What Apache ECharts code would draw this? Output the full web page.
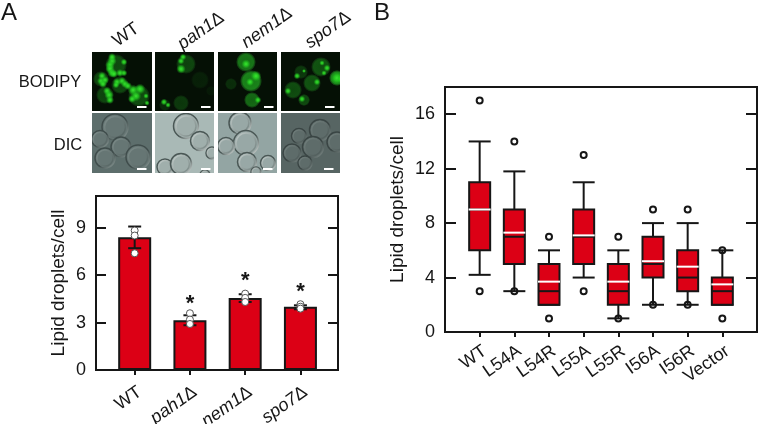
<!DOCTYPE html>
<html>
<head>
<meta charset="utf-8">
<title>Lipid droplets</title>
<script src="https://cdn.jsdelivr.net/npm/echarts@6/dist/echarts.min.js"></script>
<style>
    html, body { margin: 0; padding: 0; background: #fff; }
    #chart { width: 758px; height: 424px; }
</style>
</head>
<body>
<div id="chart"></div>
<script>
// panel A
const strainLabels = ['WT', 'pah1Δ', 'nem1Δ', 'spo7Δ']
const strainMeans = [8.4, 3.15, 4.55, 4.0]
const strainErrHigh = [9.07, 3.46, 4.79, 4.09]
const strainErrLow = [7.7, 2.83, 4.3, 3.84]
const strainPoints = [
    [8.82, 8.5, 7.38],
    [3.59, 3.19, 2.91],
    [4.83, 4.56, 4.3],
    [4.16, 4.0, 3.88]
]
const starValues = [null, 4.2, 5.65, 4.95]
const yTicksA = [0, 3, 6, 9]

// panel B
const mutantLabels = ['WT', 'L54A', 'L54R', 'L55A', 'L55R', 'I56A', 'I56R', 'Vector']
const boxLow = [4.2, 3, 2, 4, 1, 2, 2, 2]
const boxQ1 = [6, 5, 2, 5, 2, 4, 3, 2]
const boxMedian = [9, 7, 3, 7, 3, 5, 4, 3]
const boxQ3 = [11, 9, 5, 9, 5, 7, 6, 4]
const boxHigh = [14, 11.8, 6, 11, 6, 8, 8, 6]
const boxMean = [9, 7.3, 3.7, 7.1, 3.7, 5.2, 4.8, 3.5]
const boxOutliers = [
    [17, 3],
    [14, 3],
    [7, 1],
    [13, 3],
    [7, 1],
    [9, 2],
    [9, 2],
    [6, 1]
]
const yTicksB = [0, 4, 8, 12, 16]

const FONT = '"Liberation Sans", Arial, sans-serif'
const INK = '#161616'
const RED = '#dc0015'

// 显微图: 坐标都是参考图上的像素
function radial(stops) {
    return { type: 'radial', x: 0.5, y: 0.5, r: 0.5, colorStops: stops.map(s => ({ offset: s[0], color: s[1] })) }
}

function rect(x, y, w, h, fill) {
    return { type: 'rect', shape: { x, y, width: w, height: h }, style: { fill }, silent: true }
}

function fluoCell(x, y, r, level) {
    return {
        type: 'circle', shape: { cx: x, cy: y, r: r }, silent: true,
        style: {
            fill: radial([
                [0, `rgba(30,170,30,${level * 0.8})`],
                [0.75, `rgba(30,150,30,${level})`],
                [0.92, `rgba(30,120,30,${level * 0.55})`],
                [1, 'rgba(20,100,20,0)']
            ])
        }
    }
}

function spot(x, y, r) {
    return {
        type: 'circle', shape: { cx: x, cy: y, r: r * 1.35 }, silent: true,
        style: {
            fill: radial([[0, 'rgba(60,238,50,0.95)'], [0.45, 'rgba(40,215,35,0.75)'], [1, 'rgba(30,180,30,0)']])
        }
    }
}

function dicCell(x, y, r, base, edgeLight, edgeDark) {
    return [{
        type: 'circle', shape: { cx: x, cy: y, r: r }, silent: true,
        style: {
            fill: base,
            stroke: {
                type: 'linear', x: 0, y: 0, x2: 1, y2: 1,
                colorStops: [{ offset: 0, color: edgeDark }, { offset: 0.55, color: edgeDark }, { offset: 1, color: edgeLight }]
            },
            lineWidth: 1.5
        }
    }, {
        type: 'circle', shape: { cx: x, cy: y, r: r * 0.8 }, silent: true,
        style: {
            fill: 'transparent',
            stroke: {
                type: 'linear', x: 0, y: 0, x2: 1, y2: 1,
                colorStops: [{ offset: 0, color: edgeLight }, { offset: 1, color: edgeDark }]
            },
            lineWidth: 1.5,
            opacity: 0.5
        }
    }]
}

function buildMicrographs() {
    let els = []
    // BODIPY
    const tilesTop = [[92, 60], [155, 59], [218, 59], [281, 59]]
    tilesTop.forEach(t => els.push(rect(t[0], 52, t[1], 59, '#051005')))

    ;[[116, 65, 11, 0.45], [101, 79, 8, 0.4], [120, 85, 9, 0.4], [105, 95, 9, 0.4], [139, 96, 11, 0.45],
      [186, 64, 10, 0.4], [200, 80, 9, 0.12], [181, 103, 8, 0.3], [165, 105, 6, 0.2], [211, 91, 5, 0.07],
      [246, 62, 10, 0.75], [251, 81, 11, 0.85], [252, 100, 8, 0.65], [231, 84, 6, 0.22],
      [321, 67, 10, 0.5], [301, 72, 7, 0.3], [312, 83, 9, 0.5], [293, 90, 9, 0.45], [304, 100, 6, 0.42], [337, 78, 8, 0.8]
    ].forEach(c => els.push(fluoCell(c[0], c[1], c[2], c[3])))

    ;[[112, 61, 3.5], [110, 65, 3.5], [110, 69, 3.5], [112, 73, 3.5], [114, 74, 3], [120, 73, 3], [124, 73, 2.5], [124, 62, 2.5], [112, 57, 3],
      [102, 76, 3], [101, 81, 3], [105, 80, 3], [103, 84, 3], [117, 82, 3], [122, 81, 3], [125, 84, 3], [128, 86, 3], [116, 85, 2.5],
      [107, 91, 3], [109, 95, 3.5], [110, 100, 3], [133, 90, 4], [140, 89, 4], [136, 96, 4], [132, 99, 3], [146, 96, 2], [147, 103, 2],
      [183, 57, 2.5], [181, 61, 2.5], [181, 69, 3.5], [164, 102, 2.5], [168, 105, 2],
      [246, 64, 3.5], [256, 76, 4], [258, 100, 2.5], [250, 82, 3],
      [322, 63, 2], [327, 68, 2.5], [324, 73, 2], [297, 76, 2.5], [304, 71, 1.5], [317, 82, 2.5], [288, 91, 2.5], [302, 99, 2.5], [337, 78, 5], [341, 79, 3]
    ].forEach(s => els.push(spot(s[0], s[1], s[2])))

    // DIC
    const dicTiles = [
        { x: 92, w: 60, bg: '#5d6e6c', base: '#667674', light: '#98a6a3', dark: '#3f4c4b',
          cells: [[115, 127, 13], [100, 139, 8.5], [121, 147, 10], [105, 158, 10], [138, 157, 12]] },
        { x: 155, w: 59, bg: '#a9b9b6', base: '#a0afac', light: '#eef2f0', dark: '#4a5755',
          cells: [[186, 126, 12.5], [200, 141, 9.5], [165, 167, 8], [181, 164, 10.5], [212, 153, 6], [205, 175, 5]] },
        { x: 218, w: 59, bg: '#93a5a3', base: '#98a8a6', light: '#eef2f0', dark: '#4a5755',
          cells: [[240, 123, 11], [246, 143, 12.5], [226, 146, 8.5], [247, 162, 9.5], [268, 163, 7.5], [256, 172, 5]] },
        { x: 281, w: 59, bg: '#576563', base: '#5e6c6a', light: '#8a9794', dark: '#3a4544',
          cells: [[320, 130, 10.5], [299, 136, 7.5], [313, 147, 10.5], [292, 153, 9], [305, 163, 7], [337, 142, 10]] }
    ]
    dicTiles.forEach(t => {
        els.push(rect(t.x, 113, t.w, 60, t.bg))
        t.cells.forEach(c => { els = els.concat(dicCell(c[0], c[1], c[2], t.base, t.light, t.dark)) })
    })

    // 把超出格子的部分盖掉
    ;[[80, 40, 12, 145], [152, 40, 3, 145], [214, 40, 4, 145], [277, 40, 4, 145], [340, 40, 14, 145],
      [80, 40, 280, 12], [80, 111, 280, 2], [80, 173, 280, 12]
    ].forEach(s => els.push(rect(s[0], s[1], s[2], s[3], '#fff')))

    // 比例尺
    ;[[137, 106], [201, 106], [264, 106], [325, 106], [137, 168], [201, 168], [263, 168], [324, 168]]
        .forEach(b => els.push(rect(b[0], b[1], 9.5, 2, '#fff')))

    return els
}

function textEl(text, x, y, size, rotationDeg, rich) {
    return {
        type: 'text', x, y, rotation: (rotationDeg || 0) * Math.PI / 180, silent: true,
        style: { text, font: `${size}px ${FONT}`, fill: INK, align: 'center', verticalAlign: 'middle', rich: rich }
    }
}

const italicRich = {
    i: { fontFamily: FONT, fontStyle: 'italic', fontSize: 18, color: INK },
    d: { fontFamily: FONT, fontSize: 18, color: INK }
}

function strainText(label) {
    return label === 'WT' ? label : '{i|' + label.slice(0, -1) + '}{d|Δ}'
}

function buildTexts() {
    return [
        textEl('A', 9, 13, 24),
        textEl('B', 382, 13, 24),
        textEl('BODIPY', 50, 82, 16.5),
        textEl('DIC', 68, 145, 16.5),
        textEl(strainText(strainLabels[0]), 126, 35, 18, 35, italicRich),
        textEl(strainText(strainLabels[1]), 201, 31, 18, 35, italicRich),
        textEl(strainText(strainLabels[2]), 267, 28, 18, 35, italicRich),
        textEl(strainText(strainLabels[3]), 328, 30, 18, 35, italicRich)
    ]
}

// 坐标轴公用部分
function xAxisOf(gridIndex, min, max, ticks, formatter, rich, margin) {
    return {
        type: 'value', gridIndex, min, max,
        splitLine: { show: false },
        axisLine: { show: false },
        axisTick: { customValues: ticks, length: 5, lineStyle: { color: INK, width: 2 } },
        axisLabel: {
            customValues: ticks, formatter, rotate: 35, margin, rich: rich, verticalAlign: 'top',
            fontFamily: FONT, fontSize: 18, color: INK
        }
    }
}

function yAxisOf(gridIndex, max, ticks, position, tickLen, nameGap) {
    const left = position === 'left'
    return {
        type: 'value', gridIndex, min: 0, max, position,
        name: left ? 'Lipid droplets/cell' : '',
        nameLocation: 'middle', nameGap: nameGap || 30,
        nameTextStyle: { fontFamily: FONT, fontSize: 19, color: INK },
        splitLine: { show: false },
        axisLine: { show: false, onZero: false },
        axisTick: { customValues: ticks, inside: true, length: tickLen, lineStyle: { color: INK, width: 2 } },
        axisLabel: {
            show: left, customValues: ticks, margin: 10,
            fontFamily: FONT, fontSize: 18, color: INK
        }
    }
}

const barData = strainLabels.map((_, i) => [i, strainMeans[i]])
const errData = strainLabels.map((_, i) => [i, strainErrLow[i], strainErrHigh[i]])
const pointData = []
strainPoints.forEach((vals, i) => vals.forEach(v => pointData.push([i, v])))
const starData = starValues.map((v, i) => [i, v]).filter(d => d[1] !== null)

const boxData = mutantLabels.map((_, i) => [i, boxLow[i], boxQ1[i], boxMedian[i], boxQ3[i], boxHigh[i], boxMean[i]])
const outlierData = []
boxOutliers.forEach((vals, i) => vals.forEach(v => outlierData.push([i, v])))

function hLine(api, x, v, half, color, width) {
    const p = api.coord([x, v])
    return {
        type: 'line',
        shape: { x1: p[0] - half, y1: p[1], x2: p[0] + half, y2: p[1] },
        style: { stroke: color, lineWidth: width }
    }
}

function vLine(api, x, v1, v2, color, width) {
    const a = api.coord([x, v1])
    const b = api.coord([x, v2])
    return {
        type: 'line',
        shape: { x1: a[0], y1: a[1], x2: b[0], y2: b[1] },
        style: { stroke: color, lineWidth: width }
    }
}

function renderErr(params, api) {
    const x = api.value(0)
    const low = api.value(1)
    const high = api.value(2)
    return {
        type: 'group',
        children: [
            vLine(api, x, low, high, INK, 2),
            hLine(api, x, low, 6.5, INK, 2),
            hLine(api, x, high, 6.5, INK, 2)
        ]
    }
}

function renderStar(params, api) {
    const p = api.coord([api.value(0), api.value(1)])
    return {
        type: 'text', x: p[0], y: p[1],
        style: { text: '*', font: `bold 22px ${FONT}`, fill: INK, align: 'center', verticalAlign: 'middle' }
    }
}

function renderBox(params, api) {
    const x = api.value(0)
    const low = api.coord([x, api.value(2)])
    const high = api.coord([x, api.value(4)])
    return {
        type: 'group',
        children: [
            vLine(api, x, api.value(1), api.value(5), INK, 2),
            hLine(api, x, api.value(1), 11, INK, 2),
            hLine(api, x, api.value(5), 11, INK, 2),
            {
                type: 'rect',
                shape: { x: low[0] - 10.5, y: high[1], width: 21, height: low[1] - high[1] },
                style: { fill: RED, stroke: INK, lineWidth: 2 }
            },
            hLine(api, x, api.value(3), 10.5, INK, 2),
            hLine(api, x, api.value(6), 11, '#fff', 2)
        ]
    }
}

const chart = echarts.init(document.getElementById('chart'))
chart.setOption({
    animation: false,
    backgroundColor: '#fff',
    textStyle: { fontFamily: FONT },
    graphic: { elements: buildMicrographs().concat(buildTexts()) },
    grid: [
        { left: 96, top: 196, width: 242, height: 174, show: true, borderColor: INK, borderWidth: 2, outerBoundsMode: 'none' },
        { left: 445, top: 87, width: 312, height: 245, show: true, borderColor: INK, borderWidth: 2, outerBoundsMode: 'none' }
    ],
    xAxis: [
        xAxisOf(0, -0.7, 3.68, [0, 1, 2, 3], v => strainText(strainLabels[v]), italicRich, 13),
        xAxisOf(1, -1, 8, [0, 1, 2, 3, 4, 5, 6, 7], v => mutantLabels[v], undefined, 10)
    ],
    yAxis: [
        yAxisOf(0, 11, yTicksA, 'left', 10, 28),
        yAxisOf(0, 11, yTicksA, 'right', 10),
        yAxisOf(1, 18, yTicksB, 'left', 11, 38),
        yAxisOf(1, 18, yTicksB, 'right', 11)
    ],
    series: [
        {
            type: 'bar', xAxisIndex: 0, yAxisIndex: 0, data: barData, barWidth: 33, z: 2,
            itemStyle: { color: RED, borderColor: INK, borderWidth: 2 }
        },
        {
            type: 'custom', xAxisIndex: 0, yAxisIndex: 0, data: errData, renderItem: renderErr, z: 3,
            encode: { x: 0, y: [1, 2] }
        },
        {
            type: 'scatter', xAxisIndex: 0, yAxisIndex: 0, data: pointData, symbolSize: 7, z: 4,
            itemStyle: { color: '#fff', borderColor: '#555', borderWidth: 1, opacity: 1 }
        },
        {
            type: 'custom', xAxisIndex: 0, yAxisIndex: 0, data: starData, renderItem: renderStar, z: 4,
            encode: { x: 0, y: 1 }
        },
        {
            type: 'scatter', xAxisIndex: 1, yAxisIndex: 2, data: outlierData, symbolSize: 6, z: 2,
            itemStyle: { color: '#fff', borderColor: INK, borderWidth: 2, opacity: 1 }
        },
        {
            type: 'custom', xAxisIndex: 1, yAxisIndex: 2, data: boxData, renderItem: renderBox, z: 3,
            encode: { x: 0, y: [1, 2, 3, 4, 5] }
        }
    ]
})
</script>
</body>
</html>
